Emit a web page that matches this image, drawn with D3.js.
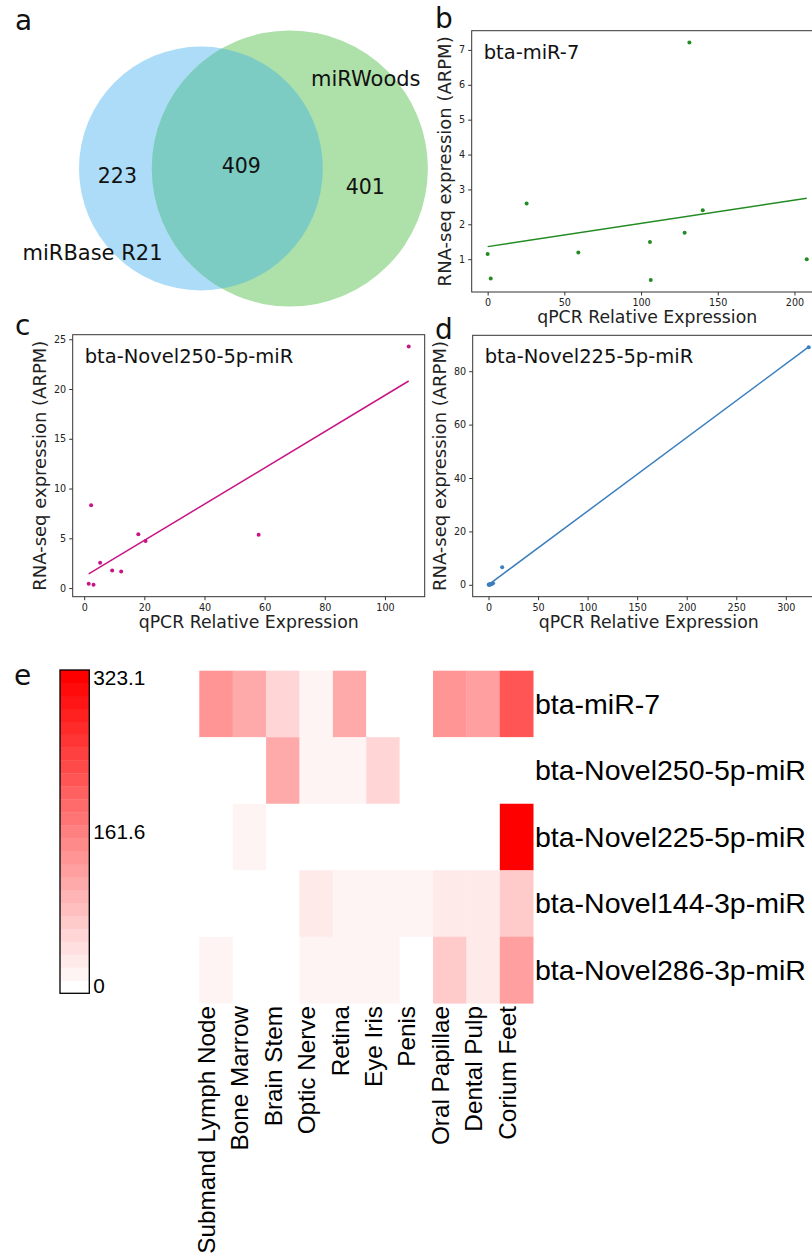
<!DOCTYPE html>
<html lang="en">
<head>
<meta charset="UTF-8">
<title>miRNA qPCR validation</title>
<script src="https://d3js.org/d3.v7.min.js"></script>
<style>
  body { margin: 0; background: #fff; }
  svg { display: block; }
</style>
</head>
<body>
<svg width="812" height="1258"></svg>
<script>
// ---- data ----
// panel a: venn (only miRBase, both, only miRWoods)
const vennSets = ["miRBase R21", "miRWoods"];
const vennCounts = [223, 409, 401];

// tissues / miRNAs of the heatmap
const tissues = ["Submand Lymph Node", "Bone Marrow", "Brain Stem", "Optic Nerve", "Retina",
                 "Eye Iris", "Penis", "Oral Papillae", "Dental Pulp", "Corium Feet"];
const mirnas = ["bta-miR-7", "bta-Novel250-5p-miR", "bta-Novel225-5p-miR",
                "bta-Novel144-3p-miR", "bta-Novel286-3p-miR"];

// qPCR relative expression per tissue (heatmap + scatter x)
const qpcrMiR7      = [140.2, 106.3, 59.1, 25.4, 105.8, 2.0, 0.0, 131.5, 128.4, 208.0];
const qpcrNovel250  = [1.5, 3.1, 107.9, 20.4, 18.0, 58.0, 2.3, 5.3, 9.3, 12.3];
const qpcrNovel225  = [0.9, 13.8, 2.6, 0.2, 1.4, 4.6, 0.5, 2.0, 3.5, 323.1];
const qpcrNovel144  = [0, 0, 0, 31, 17, 16, 18, 33, 30, 75];
const qpcrNovel286  = [15, 0, 0, 17, 16, 17, 0, 70, 36, 120];

// RNA-seq expression (ARPM) per tissue (scatter y)
const rnaMiR7     = [2.40, 0.40, 1.19, 2.60, 1.49, 0.45, 1.15, 7.21, 1.76, 1.00];
const rnaNovel250 = [0.44, 0.33, 24.26, 4.72, 5.42, 5.35, 8.33, 2.54, 1.77, 1.67];
const rnaNovel225 = [0.0, 6.6, 0.3, 0.05, 0.2, 0.6, 0.1, 0.15, 0.4, 89.0];

// axis ticks
const ticksB = { x: [0, 50, 100, 150, 200], y: [1, 2, 3, 4, 5, 6, 7] };
const ticksC = { x: [0, 20, 40, 60, 80, 100], y: [0, 5, 10, 15, 20, 25] };
const ticksD = { x: [0, 50, 100, 150, 200, 250, 300], y: [0, 20, 40, 60, 80] };
const colorbarTicks = [0, 161.6, 323.1];

const svg = d3.select("svg");
const SANS = "'DejaVu Sans', sans-serif";
const ARIAL = "'Liberation Sans', Arial, sans-serif";

svg.append("rect").attr("width", 812).attr("height", 1258).attr("fill", "#fff");

function panelLetter(t, x, y) {
  svg.append("text").attr("x", x).attr("y", y).text(t)
    .attr("font-family", SANS).attr("font-size", 28).attr("fill", "#111");
}

// ---- panel a: venn ----
function lensArea(r1, r2, d) {
  const a1 = Math.acos((d * d + r1 * r1 - r2 * r2) / (2 * d * r1));
  const a2 = Math.acos((d * d + r2 * r2 - r1 * r1) / (2 * d * r2));
  const k = Math.sqrt((-d + r1 + r2) * (d + r1 - r2) * (d - r1 + r2) * (d + r1 + r2));
  return r1 * r1 * a1 + r2 * r2 * a2 - 0.5 * k;
}
{
  const scaleK = 4.85;
  const sizeA = vennCounts[0] + vennCounts[1], sizeB = vennCounts[1] + vennCounts[2];
  const r1 = scaleK * Math.sqrt(sizeA), r2 = scaleK * Math.sqrt(sizeB);
  const target = Math.PI * scaleK * scaleK * vennCounts[1];
  let lo = Math.abs(r2 - r1) + 0.01, hi = r1 + r2 - 0.01;
  for (let i = 0; i < 60; i++) {
    const mid = (lo + hi) / 2;
    if (lensArea(r1, r2, mid) > target) lo = mid; else hi = mid;
  }
  const d = (lo + hi) / 2;
  const cy = 168.5, cx1 = 79 + r1, cx2 = cx1 + d;

  svg.append("clipPath").attr("id", "clipA")
    .append("circle").attr("cx", cx1).attr("cy", cy).attr("r", r1);
  svg.append("circle").attr("cx", cx1).attr("cy", cy).attr("r", r1).attr("fill", "#acdcf7");
  svg.append("circle").attr("cx", cx2).attr("cy", cy).attr("r", r2).attr("fill", "#aee0a9");
  svg.append("circle").attr("cx", cx2).attr("cy", cy).attr("r", r2)
    .attr("fill", "#7dccc3").attr("clip-path", "url(#clipA)");

  const numPos = [
    [(cx1 - r1 + cx2 - r2) / 2 + 2, cy + 14],
    [(cx2 - r2 + cx1 + r1) / 2 + 4, cy + 4],
    [(cx1 + r1 + cx2 + r2) / 2 - 10, cy + 25]
  ];
  vennCounts.forEach((v, i) => {
    svg.append("text").attr("x", numPos[i][0]).attr("y", numPos[i][1])
      .attr("text-anchor", "middle").attr("font-family", SANS).attr("font-size", 20.5)
      .attr("fill", "#111").text(v);
  });
  svg.append("text").attr("x", 22.5).attr("y", 259.5).text(vennSets[0])
    .attr("font-family", SANS).attr("font-size", 21).attr("fill", "#111");
  svg.append("text").attr("x", 311).attr("y", 86).text(vennSets[1])
    .attr("font-family", SANS).attr("font-size", 21).attr("fill", "#111");
}
panelLetter("a", 15, 30);

// ---- scatter panels ----
function fit(xs, ys) {
  const mx = d3.mean(xs), my = d3.mean(ys);
  const sxy = d3.sum(xs, (x, i) => (x - mx) * (ys[i] - my));
  const sxx = d3.sum(xs, x => (x - mx) * (x - mx));
  const b = sxy / sxx;
  return [my - b * mx, b];
}

function scatterPanel(cfg) {
  const g = svg.append("g");
  const W = cfg.w, H = cfg.h;
  const xe = d3.extent(cfg.xs), ye = d3.extent(cfg.ys);
  const px = (xe[1] - xe[0]) * 0.05, py = (ye[1] - ye[0]) * 0.05;
  const x = d3.scaleLinear().domain([xe[0] - px, xe[1] + px]).range([cfg.left, cfg.left + W]);
  const y = d3.scaleLinear().domain([ye[0] - py, ye[1] + py]).range([cfg.top + H, cfg.top]);

  const xAxis = g.append("g").attr("transform", `translate(0,${cfg.top + H})`)
    .call(d3.axisBottom(x).tickValues(cfg.ticks.x).tickSize(3.5).tickPadding(4));
  const yAxis = g.append("g").attr("transform", `translate(${cfg.left},0)`)
    .call(d3.axisLeft(y).tickValues(cfg.ticks.y).tickSize(3.5).tickPadding(3));
  [xAxis, yAxis].forEach(a => {
    a.select(".domain").remove();
    a.selectAll(".tick line").attr("stroke", "#333");
    a.selectAll(".tick text").attr("font-family", SANS).attr("font-size", 9.6).attr("fill", "#222");
  });

  g.append("rect").attr("x", cfg.left).attr("y", cfg.top).attr("width", W).attr("height", H)
    .attr("fill", "none").attr("stroke", "#333").attr("stroke-width", 1);

  const [a, b] = fit(cfg.xs, cfg.ys);
  g.append("line")
    .attr("x1", x(xe[0])).attr("y1", y(a + b * xe[0]))
    .attr("x2", x(xe[1])).attr("y2", y(a + b * xe[1]))
    .attr("stroke", cfg.color).attr("stroke-width", 1.5);

  g.selectAll("circle.pt").data(cfg.xs.map((v, i) => [v, cfg.ys[i]])).join("circle")
    .attr("class", "pt").attr("cx", d => x(d[0])).attr("cy", d => y(d[1]))
    .attr("r", 2).attr("fill", cfg.color);

  g.append("text").attr("x", cfg.left + 12).attr("y", cfg.top + 28).text(cfg.title)
    .attr("font-family", SANS).attr("font-size", 19.5).attr("fill", "#111");

  g.append("text").attr("x", cfg.left + W / 2).attr("y", cfg.top + H + 31)
    .attr("text-anchor", "middle").text("qPCR Relative Expression")
    .attr("font-family", SANS).attr("font-size", 17.3).attr("fill", "#222");

  let tw = 0;
  yAxis.selectAll(".tick text").each(function () { tw = Math.max(tw, this.getBBox().width); });
  const lx = cfg.left - 6.5 - tw - 8;
  g.append("text").attr("transform", `translate(${lx},${cfg.top + H / 2}) rotate(-90)`)
    .attr("text-anchor", "middle").text("RNA-seq expression (ARPM)")
    .attr("font-family", SANS).attr("font-size", 18).attr("fill", "#222");
}

scatterPanel({ left: 471.7, top: 30.7, w: 351, h: 261.3, xs: qpcrMiR7, ys: rnaMiR7,
  ticks: ticksB, color: "#228b22", title: mirnas[0] });
scatterPanel({ left: 72.7, top: 334.7, w: 352, h: 262, xs: qpcrNovel250, ys: rnaNovel250,
  ticks: ticksC, color: "#c71585", title: mirnas[1] });
scatterPanel({ left: 472.7, top: 335.3, w: 352, h: 261.4, xs: qpcrNovel225, ys: rnaNovel225,
  ticks: ticksD, color: "#3b7fbf", title: mirnas[2] });

panelLetter("b", 435, 28);
panelLetter("c", 15, 335);
panelLetter("d", 435, 339);

// ---- panel e: heatmap ----
{
  const rows = [qpcrNovel250, qpcrNovel225, qpcrNovel144, qpcrNovel286];
  const matrix = [qpcrMiR7, ...rows];
  const cells = [];
  matrix.forEach((r, i) => r.forEach((v, j) => cells.push({ m: mirnas[i], t: tissues[j], v })));
  const vmax = d3.max(colorbarTicks);
  const nSteps = 25;
  const palette = d3.quantize(d3.interpolateRgb("#ffffff", "#ff0000"), nSteps);
  const color = d3.scaleQuantize().domain([0, vmax]).range(palette);

  const xb = d3.scaleBand().domain(tissues).range([199.3, 533.2]);
  const yb = d3.scaleBand().domain(mirnas).range([670.7, 1003.3]);

  svg.append("g").selectAll("rect").data(cells).join("rect")
    .attr("x", d => xb(d.t)).attr("y", d => yb(d.m))
    .attr("width", xb.bandwidth() + 0.3).attr("height", yb.bandwidth() + 0.3)
    .attr("fill", d => color(d.v));

  svg.append("g").selectAll("text").data(mirnas).join("text")
    .attr("x", 535).attr("y", d => yb(d) + yb.bandwidth() / 2).attr("dy", "0.35em")
    .text(d => d).attr("font-family", ARIAL).attr("font-size", 28.5).attr("fill", "#000");

  svg.append("g").selectAll("text").data(tissues).join("text")
    .attr("transform", d => `translate(${xb(d) + xb.bandwidth() / 2 - 1},1006) rotate(-90)`)
    .attr("text-anchor", "end").text(d => d)
    .attr("font-family", ARIAL).attr("font-size", 24.3).attr("fill", "#000");

  // colour key
  const cbX = 60, cbW = 29.3, cbTop = 670, cbBot = 993.3;
  const cy = d3.scaleLinear().domain([0, vmax]).range([cbBot, cbTop]);
  const step = vmax / nSteps;
  svg.append("g").selectAll("rect").data(palette).join("rect")
    .attr("x", cbX).attr("width", cbW)
    .attr("y", (c, i) => cy((i + 1) * step)).attr("height", (c, i) => cy(i * step) - cy((i + 1) * step) + 0.3)
    .attr("fill", c => c);
  svg.append("rect").attr("x", cbX).attr("y", cbTop).attr("width", cbW).attr("height", cbBot - cbTop)
    .attr("fill", "none").attr("stroke", "#000").attr("stroke-width", 1.3);
  const half = 7.5;
  svg.append("g").selectAll("text").data(colorbarTicks).join("text")
    .attr("x", cbX + cbW + 4)
    .attr("y", v => Math.min(cbBot - half, Math.max(cbTop + half, cy(v))))
    .attr("dy", "0.36em").text(v => v)
    .attr("font-family", ARIAL).attr("font-size", 20.8).attr("fill", "#000");
}
panelLetter("e", 14, 685);
</script>
</body>
</html>
